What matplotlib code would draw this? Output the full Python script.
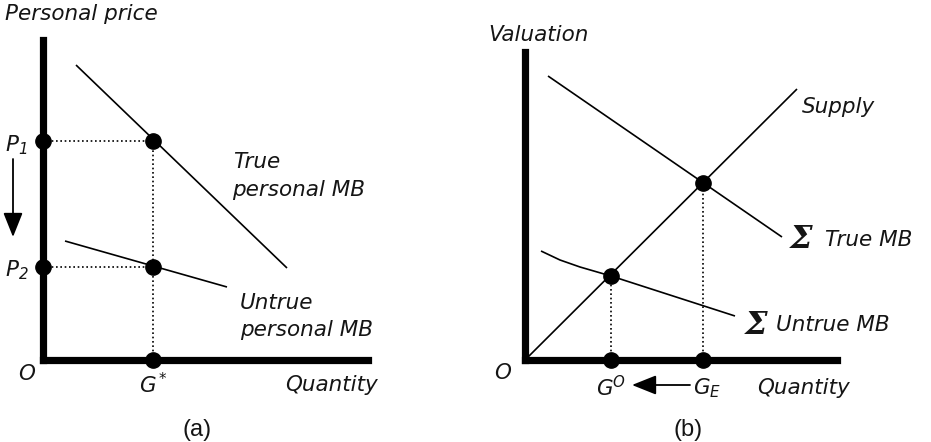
#! /usr/bin/env python

# Plotting
import matplotlib.pyplot as plt

# Fonts: oblique sans for labels, italic mathtext for sub/superscripts
plt.rcParams['font.family'] = ['DejaVu Sans']
plt.rcParams['mathtext.fontset'] = 'custom'
plt.rcParams['mathtext.rm'] = 'DejaVu Sans:italic'
plt.rcParams['mathtext.it'] = 'DejaVu Sans:italic'

# Panel (a) data, diagram units with origin at O
true_pmb_q = [33, 244]
true_pmb_v = [295, 92]
untrue_pmb_q = [22, 184]
untrue_pmb_v = [119, 73]
g_star = 110
p1 = 219
p2 = 93
axis_a_q = 325
axis_a_v = 320

# Panel (b) data
supply_q = [0, 272]
supply_v = [0, 271]
true_mb_q = [23, 257]
true_mb_v = [284, 123]
untrue_mb_q = [16, 35, 55, 86, 210]
untrue_mb_v = [109, 100, 93, 84, 44]
g_o = 86
g_o_val = 84
g_e = 178
g_e_val = 177
axis_b_q = 312
axis_b_v = 308

W, H = 931, 442
fig = plt.figure(figsize=(W / 100, H / 100), dpi=100)

# Axes placed in pixels so that the spines are the thick diagram axes
ax_a = fig.add_axes([43 / W, 82 / H, axis_a_q / W, axis_a_v / H])
ax_b = fig.add_axes([525 / W, 82 / H, axis_b_q / W, axis_b_v / H])

for ax, xmax, ymax in [(ax_a, axis_a_q, axis_a_v), (ax_b, axis_b_q, axis_b_v)]:
    ax.set_xlim(0, xmax)
    ax.set_ylim(0, ymax)
    ax.set_xticks([])
    ax.set_yticks([])
    ax.spines[['top', 'right']].set_visible(False)
    for side in ['left', 'bottom']:
        ax.spines[side].set_linewidth(5.2)
        ax.spines[side].set_capstyle('projecting')
    ax.patch.set_alpha(0)

line_kw = dict(color='black', lw=1.2, clip_on=False, solid_capstyle='butt')
dot_kw = dict(color='black', ls='none', marker='o', ms=11, clip_on=False,
              zorder=5)
dotted_kw = dict(color='black', lw=1.2, ls=(0, (1, 1.6)), clip_on=False)
label_kw = dict(fontsize=15.5, style='oblique', color='#151515')
arrow_style = '-|>,head_length=1.5,head_width=0.6'

# ---------------- Panel (a) ----------------
ax = ax_a
ax.plot(true_pmb_q, true_pmb_v, **line_kw)
ax.plot(untrue_pmb_q, untrue_pmb_v, **line_kw)
ax.plot([0, g_star], [p1, p1], **dotted_kw)
ax.plot([0, g_star], [p2, p2], **dotted_kw)
ax.plot([g_star, g_star], [0, p1], **dotted_kw)
ax.plot([0, g_star, 0, g_star, g_star], [p1, p1, p2, p2, 0], **dot_kw)

# Arrow from P1 down to P2
ax.annotate('', xy=(-30, 123), xytext=(-30, 201), annotation_clip=False,
            arrowprops=dict(arrowstyle=arrow_style, color='black', lw=1.3,
                            shrinkA=0, shrinkB=0))

ax.text(-38, 346, 'Personal price', ha='left', va='center', **label_kw)
ax.text(-38, 215, 'P$_1$', ha='left', va='center', **label_kw)
ax.text(-38, 90, 'P$_2$', ha='left', va='center', **label_kw)
ax.text(190, 198, 'True', ha='left', va='center', **label_kw)
ax.text(189, 170, 'personal MB', ha='left', va='center', **label_kw)
ax.text(197, 57, 'Untrue', ha='left', va='center', **label_kw)
ax.text(197, 30, 'personal MB', ha='left', va='center', **label_kw)
ax.text(-16, -14, 'O', ha='center', va='center', **label_kw)
ax.text(g_star, -25, 'G$^*$', ha='center', va='center', **label_kw)
ax.text(242, -25, 'Quantity', ha='left', va='center', **label_kw)
ax.text(154, -70, '(a)', ha='center', va='center', fontsize=17,
        family='Liberation Sans', color='#151515')

# ---------------- Panel (b) ----------------
ax = ax_b
ax.plot(supply_q, supply_v, **line_kw)
ax.plot(true_mb_q, true_mb_v, **line_kw)
ax.plot(untrue_mb_q, untrue_mb_v, **line_kw)
ax.plot([g_o, g_o], [0, g_o_val], **dotted_kw)
ax.plot([g_e, g_e], [0, g_e_val], **dotted_kw)
ax.plot([g_o, g_e, g_o, g_e], [g_o_val, g_e_val, 0, 0], **dot_kw)

# Arrow from G_E back to G^O
ax.annotate('', xy=(107, -25), xytext=(165, -25), annotation_clip=False,
            arrowprops=dict(arrowstyle=arrow_style, color='black', lw=1.3,
                            shrinkA=0, shrinkB=0))

sigma_kw = dict(fontsize=23, family='DejaVu Serif', weight='bold',
                style='italic', color='#151515')
ax.text(-37, 325, 'Valuation', ha='left', va='center', **label_kw)
ax.text(277, 253, 'Supply', ha='left', va='center', **label_kw)
ax.text(265, 120, '\u03a3', ha='left', va='center', **sigma_kw)
ax.text(300, 120, 'True MB', ha='left', va='center', **label_kw)
ax.text(220, 35, '\u03a3', ha='left', va='center', **sigma_kw)
ax.text(251, 35, 'Untrue MB', ha='left', va='center', **label_kw)
ax.text(-22, -13, 'O', ha='center', va='center', **label_kw)
ax.text(g_o, -28, 'G$^O$', ha='center', va='center', **label_kw)
ax.text(g_e + 4, -28, 'G$_E$', ha='center', va='center', **label_kw)
ax.text(232, -28, 'Quantity', ha='left', va='center', **label_kw)
ax.text(163, -70, '(b)', ha='center', va='center', fontsize=17,
        family='Liberation Sans', color='#151515')

fig.savefig('out.png', dpi=100)
